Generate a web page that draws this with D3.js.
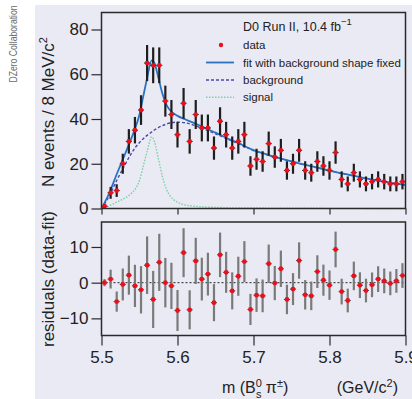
<!DOCTYPE html>
<html>
<head>
<meta charset="utf-8">
<script src="https://cdn.jsdelivr.net/npm/d3@7"></script>
<style>
  body { margin: 0; background: #fff; }
  svg { display: block; }
  text { font-family: "Liberation Sans", Arial, sans-serif; fill: #222; }
</style>
</head>
<body>
<div id="chart"></div>
<script>
// mass bins, 8 MeV wide, from 5.5 to 5.9 GeV
const binLo = 5.5;
const binWidth = 0.008;
const nBins = 50;

// events per bin (top panel)
const counts = [1, 7, 8, 20, 30, 35, 44, 65, 64, 64,
                48, 42, 33, 47, 30, 42, 36, 36, 27, 39,
                33, 27, 30, 33, 19, 22, 21, 29, 23, 26,
                17, 20, 26, 17, 16, 21, 19, 17, 25, 13,
                11, 16, 13, 11, 12, 13, 12, 11, 11, 12];

// residuals data - fit (bottom panel)
const residuals = [0, 1.0, -5.3, -0.5, 2.1, -0.9, -2.0, 4.9, -4.7, 5.7,
                   0, -0.9, -7.8, 8.4, -7.6, 6.1, 1.0, 2.4, -5.6, 7.8,
                   2.9, -2.3, 1.8, 5.9, -7.5, -3.5, -3.7, 5.3, -0.1, 3.9,
                   -4.7, -1.8, 6.2, -3.4, -3.7, 3.1, 0.7, -0.7, 9.3, -2.5,
                   -5.0, 1.9, -0.7, -2.2, -0.6, 1.0, 0.5, -0.2, 0.5, 2.0];

// curves
const curveMass = [5.50, 5.51, 5.52, 5.53, 5.54, 5.545, 5.55, 5.555, 5.56, 5.566,
                   5.57, 5.575, 5.58, 5.585, 5.59, 5.60, 5.61, 5.62, 5.63, 5.64,
                   5.65, 5.66, 5.67, 5.68, 5.69, 5.70, 5.71, 5.72, 5.73, 5.74,
                   5.75, 5.76, 5.77, 5.78, 5.79, 5.80, 5.81, 5.82, 5.83, 5.84,
                   5.85, 5.86, 5.87, 5.88, 5.89, 5.90];
const background = [0, 5.5, 12.5, 19, 25, 27.5, 29.5, 31.2, 32.7, 34.2,
                    35.2, 36.2, 37, 37.7, 38.2, 38.6, 38.3, 37.4, 36.2, 34.8,
                    33.4, 31.9, 30.4, 29, 27.4, 25.9, 24.8, 23.8, 22.8, 21.9,
                    21, 20.1, 19.3, 18.5, 17.7, 16.9, 16.1, 15.4, 14.7, 14,
                    13.3, 12.7, 12.1, 11.5, 11, 10.5];
const signal = [0, 1.2, 2.8, 4.5, 7, 9, 12.5, 19, 25.5, 32,
                29.5, 22, 14.5, 9, 5.8, 2.8, 1.6, 1.1, 0.8, 0.6,
                0.5, 0.4, 0.3, 0.3, 0.2, 0.2, 0.2, 0.1, 0.1, 0.1,
                0.1, 0.1, 0.1, 0.1, 0.1, 0.05, 0.05, 0.05, 0.05, 0.05,
                0, 0, 0, 0, 0, 0];

const xTicks = [5.5, 5.6, 5.7, 5.8, 5.9];
const yTicks = [0, 20, 40, 60, 80];
const rTicks = [-10, 0, 10];
const legendLabels = ['data', 'fit with background shape fixed', 'background', 'signal'];

const W = 412, H = 399;
const svg = d3.select('#chart').append('svg')
  .attr('width', W).attr('height', H);

svg.append('rect').attr('width', W).attr('height', H).attr('fill', '#fff');
svg.append('rect').attr('x', 35).attr('y', 5).attr('width', W - 35).attr('height', H - 5)
  .attr('fill', '#eaeaf4');

// side label, squeezed a bit to look like the condensed original
svg.append('text')
  .attr('transform', 'translate(16.5,44) rotate(-90) scale(0.8,1)')
  .attr('text-anchor', 'middle')
  .style('font-size', '10.8px').style('fill', '#6a6a6a')
  .text('DZero Collaboration');

// scales
const x = d3.scaleLinear().domain([5.5, 5.9]).range([101.5, 405.5]);
const y = d3.scaleLinear().domain([0, 87.6]).range([208.5, 12.5]);
const yr = d3.scaleLinear().domain([-14.8, 17]).range([335.5, 222]);

const bins = d3.range(nBins).map(i => {
  const m = binLo + binWidth * (i + 0.5);
  return { m: m, n: counts[i], err: Math.sqrt(counts[i]), res: residuals[i] };
});

const curves = curveMass.map((m, i) => ({
  m: m, bg: background[i], sig: signal[i], fit: background[i] + signal[i]
}));

// ---- top panel ----
const topG = svg.append('g');

const lineOf = (key) => d3.line()
  .x(d => x(d.m))
  .y(d => y(d[key]))
  .curve(d3.curveMonotoneX);

topG.append('path').datum(curves)
  .attr('d', lineOf('sig'))
  .attr('fill', 'none').attr('stroke', '#7ccfa3').attr('stroke-width', 1.4)
  .attr('stroke-dasharray', '1.5,1.5');

topG.append('path').datum(curves)
  .attr('d', lineOf('bg'))
  .attr('fill', 'none').attr('stroke', '#4a4aa8').attr('stroke-width', 1.4)
  .attr('stroke-dasharray', '3,2');

topG.append('path').datum(curves)
  .attr('d', lineOf('fit'))
  .attr('fill', 'none').attr('stroke', '#2a72c0').attr('stroke-width', 1.8);

const pts = topG.selectAll('.pt').data(bins).enter().append('g');
pts.append('line')
  .attr('x1', d => x(d.m)).attr('x2', d => x(d.m))
  .attr('y1', d => y(d.n - d.err)).attr('y2', d => y(d.n + d.err))
  .attr('stroke', '#1e1e1e').attr('stroke-width', 2.2);
pts.append('line')
  .attr('x1', d => x(d.m - binWidth / 2)).attr('x2', d => x(d.m + binWidth / 2))
  .attr('y1', d => y(d.n)).attr('y2', d => y(d.n))
  .attr('stroke', '#1e1e1e').attr('stroke-width', 1);
pts.append('circle')
  .attr('cx', d => x(d.m)).attr('cy', d => y(d.n)).attr('r', 2.4)
  .attr('fill', '#e8101c');

// frame + axes
topG.append('rect').attr('x', 101.5).attr('y', 12.5).attr('width', 304).attr('height', 196)
  .attr('fill', 'none').attr('stroke', '#2a2a2a').attr('stroke-width', 1.5);

topG.append('g').attr('transform', 'translate(101.5,0)')
  .call(d3.axisLeft(y).tickValues(yTicks).tickSize(10).tickPadding(3).tickSizeOuter(0))
  .call(g => g.select('.domain').remove())
  .call(g => g.selectAll('line').attr('stroke', '#2a2a2a').attr('stroke-width', 1.2))
  .call(g => g.selectAll('text').attr('font-family', null).style('font-size', '17px').style('fill', '#222'));

topG.append('g').attr('transform', 'translate(0,208.5)')
  .call(d3.axisBottom(x).tickValues(xTicks).tickSize(6).tickFormat('').tickSizeOuter(0))
  .call(g => g.select('.domain').remove())
  .call(g => g.selectAll('line').attr('stroke', '#2a2a2a').attr('stroke-width', 1.2));

topG.append('text')
  .attr('transform', 'translate(54,112) rotate(-90)')
  .attr('text-anchor', 'middle')
  .style('font-size', '17px')
  .call(t => {
    t.append('tspan').text('N events / 8 MeV/c');
    t.append('tspan').attr('dy', -7).style('font-size', '11px').text('2');
  });

// legend
const lg = topG.append('g');
lg.append('text').attr('x', 243).attr('y', 31).style('font-size', '12.5px')
  .call(t => {
    t.append('tspan').text('D0 Run II, 10.4 fb');
    t.append('tspan').attr('dy', -6).style('font-size', '9.5px').text('\u22121');
  });
const lgY = [45, 62.5, 80, 97.3];
lg.selectAll('.lt').data(legendLabels).enter().append('text')
  .attr('x', 243).attr('y', (d, i) => lgY[i] + 4)
  .style('font-size', '11.5px')
  .text(d => d);
lg.append('circle').attr('cx', 221).attr('cy', lgY[0]).attr('r', 2.2).attr('fill', '#e8101c');
lg.append('line').attr('x1', 206).attr('x2', 234).attr('y1', lgY[1]).attr('y2', lgY[1])
  .attr('stroke', '#2a72c0').attr('stroke-width', 1.8);
lg.append('line').attr('x1', 206).attr('x2', 234).attr('y1', lgY[2]).attr('y2', lgY[2])
  .attr('stroke', '#4a4aa8').attr('stroke-width', 1.4).attr('stroke-dasharray', '3,2');
lg.append('line').attr('x1', 206).attr('x2', 234).attr('y1', lgY[3]).attr('y2', lgY[3])
  .attr('stroke', '#7ccfa3').attr('stroke-width', 1.4).attr('stroke-dasharray', '1.5,1.5');

// ---- bottom panel ----
const botG = svg.append('g');

botG.append('line').attr('x1', 101.5).attr('x2', 405.5).attr('y1', yr(0)).attr('y2', yr(0))
  .attr('stroke', '#222').attr('stroke-width', 1).attr('stroke-dasharray', '2,2');

const rp = botG.selectAll('.rp').data(bins).enter().append('g');
rp.append('line')
  .attr('x1', d => x(d.m)).attr('x2', d => x(d.m))
  .attr('y1', d => yr(d.res - d.err)).attr('y2', d => yr(d.res + d.err))
  .attr('stroke', '#7a7a7a').attr('stroke-width', 2.2);
rp.append('line')
  .attr('x1', d => x(d.m - binWidth / 2)).attr('x2', d => x(d.m + binWidth / 2))
  .attr('y1', d => yr(d.res)).attr('y2', d => yr(d.res))
  .attr('stroke', '#444').attr('stroke-width', 1);
rp.append('circle')
  .attr('cx', d => x(d.m)).attr('cy', d => yr(d.res)).attr('r', 2.4)
  .attr('fill', '#e8101c');

botG.append('rect').attr('x', 101.5).attr('y', 222).attr('width', 304).attr('height', 113.5)
  .attr('fill', 'none').attr('stroke', '#2a2a2a').attr('stroke-width', 1.5);

botG.append('g').attr('transform', 'translate(101.5,0)')
  .call(d3.axisLeft(yr).tickValues(rTicks).tickSize(10).tickPadding(3).tickSizeOuter(0)
    .tickFormat(d => d < 0 ? '\u2212' + Math.abs(d) : d))
  .call(g => g.select('.domain').remove())
  .call(g => g.selectAll('line').attr('stroke', '#2a2a2a').attr('stroke-width', 1.2))
  .call(g => g.selectAll('text').attr('font-family', null).style('font-size', '17px').style('fill', '#222'));

botG.append('g').attr('transform', 'translate(0,335.5)')
  .call(d3.axisBottom(x).tickValues(xTicks).tickSize(10).tickPadding(5).tickSizeOuter(0)
    .tickFormat(d3.format('.1f')))
  .call(g => g.select('.domain').remove())
  .call(g => g.selectAll('line').attr('stroke', '#2a2a2a').attr('stroke-width', 1.2))
  .call(g => g.selectAll('text').attr('font-family', null).style('font-size', '17px').style('fill', '#222'));

botG.append('text')
  .attr('transform', 'translate(54,279) rotate(-90)')
  .attr('text-anchor', 'middle')
  .style('font-size', '17px')
  .text('residuals (data-fit)');

// x title
const xt = svg.append('text').attr('x', 222).attr('y', 393).style('font-size', '16px');
xt.append('tspan').text('m (B');
xt.append('tspan').attr('dy', -6).style('font-size', '11px').text('0');
xt.append('tspan').attr('dx', -6).attr('dy', 11).style('font-size', '11px').text('s');
xt.append('tspan').attr('dy', -5).text(' \u03c0');
xt.append('tspan').attr('dy', -6).style('font-size', '11px').text('\u00b1');
xt.append('tspan').attr('dy', 6).text(')');

const xu = svg.append('text').attr('x', 398).attr('y', 393).attr('text-anchor', 'end')
  .style('font-size', '16px');
xu.append('tspan').text('(GeV/c');
xu.append('tspan').attr('dy', -6).style('font-size', '11px').text('2');
xu.append('tspan').attr('dy', 6).text(')');
</script>
</body>
</html>
